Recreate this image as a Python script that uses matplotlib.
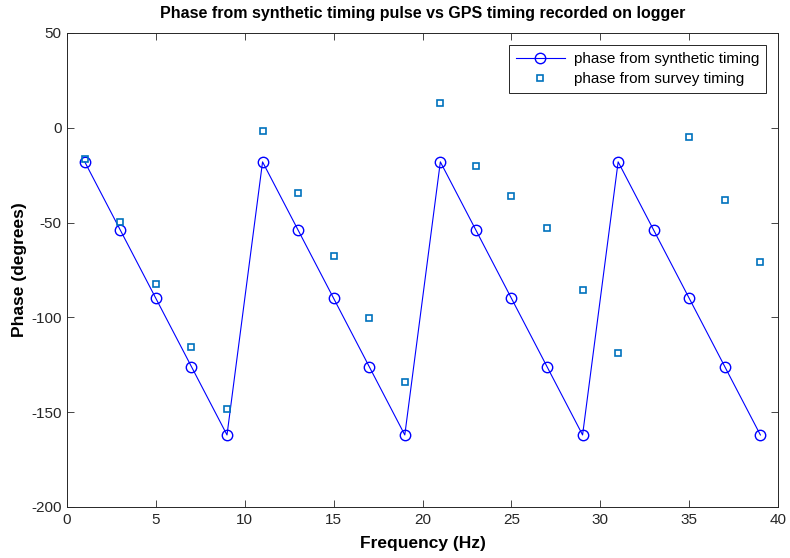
import numpy as np
import matplotlib
matplotlib.use("Agg")
import matplotlib.pyplot as plt

# Frequencies (Hz) and phase values (degrees)
freq = [1, 3, 5, 7, 9, 11, 13, 15, 17, 19, 21, 23, 25, 27, 29, 31, 33, 35, 37, 39]
phase_synthetic = [-18, -54, -90, -126, -162, -18, -54, -90, -126, -162,
                   -18, -54, -90, -126, -162, -18, -54, -90, -126, -162]
phase_survey = [-16.5, -49.5, -82.5, -115.5, -148.5, -1.7, -34.5, -67.5, -100.5, -134,
                13, -20, -36.2, -52.7, -85.7, -118.6, np.nan, -5, -38, -71]

plt.rcParams['font.family'] = ['Liberation Sans', 'DejaVu Sans']
plt.rcParams['axes.unicode_minus'] = False

fig = plt.figure(figsize=(7.9, 5.58), dpi=100)
ax = fig.add_axes([0.0848, 0.0914, 0.9002, 0.8496])

ax.plot(freq, phase_synthetic, color=(0, 0, 1), linewidth=0.8, marker='o',
        markersize=7.5, markerfacecolor='none', markeredgewidth=1.0,
        label='phase from synthetic timing')
ax.plot(freq, phase_survey, linestyle='none', marker='s', markersize=5,
        markerfacecolor='none', markeredgecolor=(0, 0.447, 0.741),
        markeredgewidth=1.2, label='phase from survey timing')

ax.set_xlim(0, 40)
ax.set_ylim(-200, 50)
ax.set_xticks(np.arange(0, 41, 5))
ax.set_yticks(np.arange(-200, 51, 50))

ax.tick_params(direction='in', top=True, right=True, length=5, width=0.6,
               labelsize=11, colors='#262626', pad=4)
for s in ax.spines.values():
    s.set_linewidth(0.7)
    s.set_color('#262626')

ax.set_title('Phase from synthetic timing pulse vs GPS timing recorded on logger',
             fontsize=11.5, fontweight='bold', pad=11)
ax.set_xlabel('Frequency (Hz)', fontsize=12.5, fontweight='bold', labelpad=7)
ax.set_ylabel('Phase (degrees)', fontsize=12.5, fontweight='bold', labelpad=3)

leg = ax.legend(loc='upper right', fontsize=11, fancybox=False, framealpha=1,
                edgecolor='#262626', borderaxespad=0.8, handlelength=3.2,
                borderpad=0.45, labelspacing=0.4, handletextpad=0.6)
leg.get_frame().set_linewidth(0.7)

fig.savefig('out.png', dpi=100)
plt.close(fig)
